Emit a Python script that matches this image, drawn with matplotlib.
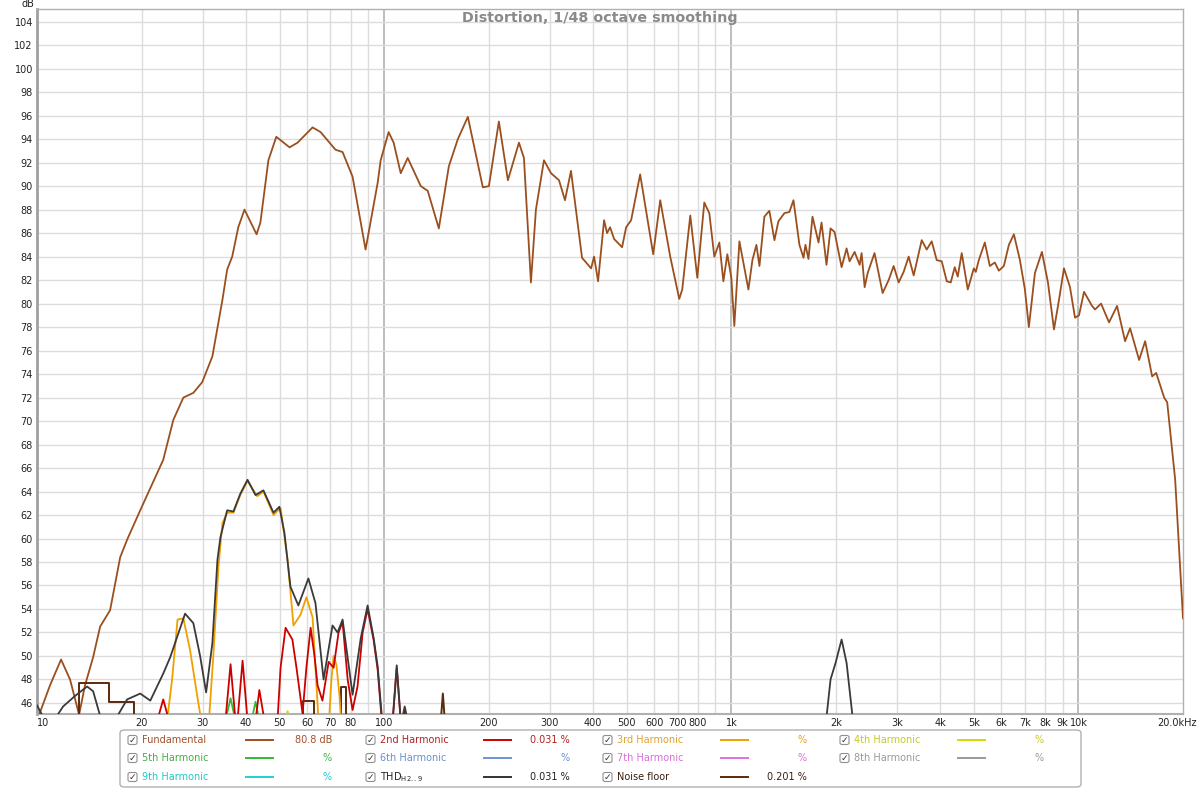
import matplotlib.pyplot as plt
from matplotlib.patches import FancyBboxPatch
from matplotlib.lines import Line2D

# fundamental (Hz, dB)
fund_f = [10.0, 10.9, 11.73, 12.45, 13.22, 13.75, 14.51, 15.2, 16.24, 17.36, 18.18, 19.83,
          21.9, 23.1, 24.7, 26.4, 28.2, 29.9, 32.0, 34.2, 35.3, 36.5, 38.0, 39.6, 42.9, 44.0,
          46.4, 48.9, 53.4, 56.3, 62.2, 65.6, 72.4, 75.9, 81.1, 88.4, 95.8, 97.7, 103.0, 106.5,
          111.6, 116.9, 127.5, 133.5, 143.7, 153.6, 163.0, 174.2, 192.4, 200.3, 214.0, 227.2,
          244.5, 252.7, 264.7, 273.6, 288.6, 302.4, 318.9, 331.8, 345.3, 371.5, 394.5, 402.4,
          413.2, 430.0, 438.6, 447.5, 459.5, 484.6, 497.7, 514.5, 546.2, 595.6, 624.0, 666.8,
          707.9, 722.1, 761.6, 797.9, 835.9, 864.1, 893.3, 923.6, 948.5, 973.9, 1000, 1020,
          1055, 1120, 1150, 1181, 1205, 1245, 1287, 1331, 1366, 1422, 1470, 1510, 1571, 1614,
          1635, 1668, 1713, 1783, 1819, 1880, 1931, 1983, 2078, 2148, 2191, 2265, 2342, 2373,
          2421, 2470, 2585, 2728, 2839, 2935, 3034, 3136, 3242, 3352, 3535, 3654, 3778, 3905,
          4037, 4174, 4286, 4401, 4489, 4610, 4798, 4994, 5061, 5162, 5373, 5554, 5741, 5896,
          6095, 6302, 6515, 6781, 7009, 7195, 7490, 7846, 8166, 8500, 8785, 9082, 9452, 9770,
          10033, 10373, 10940, 11160, 11613, 12246, 12915, 13620, 14080, 14950, 15560, 16300,
          16740, 17650, 18010, 18990, 20000]
fund_db = [44.5, 47.5, 49.7, 48.0, 45.0, 47.5, 49.9, 52.5, 53.9, 58.4, 59.9, 62.4,
           65.2, 66.7, 70.1, 72.0, 72.4, 73.3, 75.5, 80.3, 82.9, 84.0, 86.5, 88.0, 85.9, 86.9,
           92.2, 94.2, 93.3, 93.7, 95.0, 94.6, 93.1, 92.9, 90.8, 84.6, 90.3, 92.2, 94.6, 93.7,
           91.1, 92.4, 90.0, 89.6, 86.4, 91.7, 94.0, 95.9, 89.9, 90.0, 95.5, 90.5,
           93.7, 92.4, 81.8, 88.0, 92.2, 91.1, 90.5, 88.8, 91.3, 83.9, 83.0, 84.0,
           81.9, 87.1, 86.0, 86.5, 85.5, 84.8, 86.5, 87.1, 91.0, 84.2, 88.8, 84.0,
           80.4, 81.2, 87.5, 82.2, 88.6, 87.7, 84.0, 85.2, 81.9, 84.2, 82.2, 78.1,
           85.3, 81.2, 83.7, 85.0, 83.2, 87.4, 87.9, 85.4, 87.0, 87.7, 87.8, 88.8, 85.0, 83.9,
           85.0, 83.8, 87.4, 85.2, 86.9, 83.3, 86.4, 86.1, 83.1, 84.7, 83.6, 84.4, 83.3, 84.3,
           81.4, 82.6, 84.3, 80.9, 82.0, 83.2, 81.8, 82.7, 84.0, 82.4, 85.4, 84.6, 85.3, 83.7,
           83.6, 81.9, 81.8, 83.1, 82.3, 84.3, 81.2, 83.0, 82.7, 83.7, 85.2, 83.2, 83.5, 82.8,
           83.2, 85.0, 85.9, 83.7, 81.2, 78.0, 82.6, 84.4, 81.8, 77.8, 80.3, 83.0, 81.4, 78.8,
           79.0, 81.0, 79.8, 79.5, 80.0, 78.4, 79.8, 76.8, 77.9, 75.2, 76.8, 73.8,
           74.1, 72.0, 71.6, 65.0, 53.2]

# THD H2..9
thd_f = [10.0, 10.55, 10.9, 11.89, 12.87, 13.94, 14.51, 15.2, 16.24, 17.13, 18.18, 19.83,
         21.2, 23.1, 24.2, 26.7, 28.2, 29.5, 30.7, 32.0, 33.1, 33.75, 35.3, 36.8, 38.5, 40.4,
         42.6, 44.9, 48.0, 49.9, 51.6, 53.7, 56.6, 60.5, 63.4, 66.9, 71.0, 73.4, 75.9, 81.1,
         85.6, 89.6, 93.3, 95.8, 99.0, 105.8, 108.7, 111.6, 112.4, 114.6, 116.9]
thd_db = [45.8, 44.5, 44.0, 45.7, 46.6, 47.4, 47.0, 44.9, 42.0, 45.0, 46.3, 46.8,
          46.2, 48.5, 49.9, 53.6, 52.8, 50.0, 46.9, 51.1, 58.2, 60.1, 62.4, 62.3, 63.8, 65.0,
          63.7, 64.1, 62.2, 62.7, 60.5, 55.9, 54.3, 56.6, 54.5, 48.0, 52.6, 52.0, 53.1, 46.7,
          51.5, 54.3, 51.5, 49.1, 44.0, 44.5, 49.2, 44.5, 44.5, 45.7, 44.5]
thd2k_f = [1880, 1931, 1996, 2078, 2148, 2235]
thd2k_db = [44.8, 48.0, 49.4, 51.4, 49.4, 44.8]

# 2nd harmonic
h2_f = [22.2, 23.1, 24.0, 34.9, 36.1, 37.3, 37.8, 39.1, 40.4, 42.6, 43.7, 45.2,
        49.3, 50.3, 52.0, 54.4, 55.9, 58.2, 59.7, 61.4, 63.0, 64.3, 66.4, 69.2, 71.5, 73.9,
        75.9, 78.5, 81.1, 83.8, 86.7, 89.6, 93.3, 95.8, 98.4, 105.8, 108.7, 111.6, 113.1,
        114.6, 116.1]
h2_db = [44.5, 46.3, 44.5, 44.5, 49.3, 44.5, 44.5, 49.6, 44.5, 44.5, 47.1, 44.5,
         44.5, 49.0, 52.4, 51.4, 49.0, 45.1, 49.0, 52.4, 50.0, 47.5, 46.2, 49.5, 49.0, 52.0,
         52.9, 48.0, 45.4, 47.4, 52.0, 54.0, 51.3, 48.8, 44.5, 44.5, 49.0, 44.5, 44.5,
         45.3, 44.5]

# 3rd harmonic
h3_f = [23.7, 24.5, 25.4, 26.4, 27.6, 28.8, 29.9, 31.2, 32.2, 33.3, 34.2, 35.3, 36.8,
        38.5, 40.4, 43.1, 44.9, 48.0, 50.3, 52.7, 54.8, 57.4, 59.7, 62.2, 63.4, 64.7,
        69.2, 70.5, 71.5, 72.9, 74.4, 75.3]
h3_db = [44.5, 48.0, 53.1, 53.2, 50.5, 47.0, 44.0, 44.0, 50.0, 57.5, 61.3, 62.2, 62.2,
         63.7, 64.9, 63.6, 64.0, 62.0, 62.6, 58.2, 52.6, 53.5, 55.0, 53.3, 49.0, 44.5,
         44.0, 48.0, 50.0, 49.2, 46.5, 44.0]

# 4th and 5th harmonic
h4_f = [51.6, 52.7, 53.7]
h4_db = [44.5, 45.3, 44.5]
h5_f = [34.9, 36.1, 37.3, 41.5, 42.6, 43.7]
h5_db = [44.5, 46.4, 44.5, 44.5, 46.1, 44.5]

# noise floor (steps)
nf_segments = [
    ([13.22, 13.22, 16.13, 16.13, 19.06, 19.06], [44.0, 47.7, 47.7, 46.1, 46.1, 44.0]),
    ([58.2, 58.2, 62.6, 62.6], [44.0, 46.2, 46.2, 44.0]),
    ([74.9, 74.9, 77.4, 77.4], [44.0, 47.4, 47.4, 44.0]),
    ([145.6, 147.6, 149.5], [44.5, 46.8, 44.5]),
]

grid_freqs = [20, 30, 40, 50, 60, 70, 80, 90, 200, 300, 400, 500, 600, 700, 800, 900,
              2000, 3000, 4000, 5000, 6000, 7000, 8000, 9000]
decades = [100, 1000, 10000]
xtick_f = [10, 20, 30, 40, 50, 60, 70, 80, 100, 200, 300, 400, 500, 600, 700, 800, 1000,
           2000, 3000, 4000, 5000, 6000, 7000, 8000, 9000, 10000]
xtick_lab = ["10", "20", "30", "40", "50", "60", "70", "80", "100", "200", "300", "400",
             "500", "600", "700", "800", "1k", "2k", "3k", "4k", "5k", "6k", "7k", "8k",
             "9k", "10k"]
yticks = list(range(46, 105, 2))

legend_rows = [
    [("Fundamental", "#a0522d", "#9b4f1e", "80.8 dB"), ("2nd Harmonic", "#b22222", "#cc0000", "0.031 %"),
     ("3rd Harmonic", "#e0a030", "#f0a000", "%"), ("4th Harmonic", "#c8c820", "#d8d800", "%")],
    [("5th Harmonic", "#40b040", "#33bb33", "%"), ("6th Harmonic", "#6a8fd0", "#7090d8", "%"),
     ("7th Harmonic", "#d870d8", "#e070e0", "%"), ("8th Harmonic", "#999999", "#999999", "%")],
    [("9th Harmonic", "#20c8c8", "#20d0d0", "%"), ("THD$_{\\mathregular{H2..9}}$", "#222222", "#333333", "0.031 %"),
     ("Noise floor", "#3a2010", "#5a2a0a", "0.201 %"), None],
]

W, H = 1200, 788
fig = plt.figure(figsize=(W / 100, H / 100), dpi=100)
ax = fig.add_axes([37 / W, 74 / H, 1146 / W, 705 / H])
ax.set_xscale("log")
ax.set_xlim(10, 20000)
ax.set_ylim(45.06, 105.08)

for f in grid_freqs:
    ax.axvline(f, color="#dcdcdc", lw=1.0, zorder=0)
for f in decades:
    ax.axvline(f, color="#b8b8b8", lw=1.3, zorder=0)
for y in yticks:
    ax.axhline(y, color="#dcdcdc", lw=1.0, zorder=0)

ax.plot(fund_f, fund_db, color="#9b4f1e", lw=1.3, zorder=3)
for sf, sdb in nf_segments:
    ax.plot(sf, sdb, color="#5a2a0a", lw=1.4, zorder=3)
ax.plot(h3_f, h3_db, color="#f0a000", lw=1.3, zorder=4)
ax.plot(h4_f, h4_db, color="#d8d800", lw=1.3, zorder=4)
ax.plot(h5_f, h5_db, color="#33bb33", lw=1.3, zorder=4)
ax.plot(h2_f, h2_db, color="#cc0000", lw=1.3, zorder=5)
ax.plot(thd_f, thd_db, color="#3a3a3a", lw=1.3, zorder=6)
ax.plot(thd2k_f, thd2k_db, color="#3a3a3a", lw=1.3, zorder=6)

ax.set_xticks(xtick_f)
ax.set_xticklabels(xtick_lab)
ax.minorticks_off()
ax.set_yticks(yticks)
ax.tick_params(axis="both", length=0, labelsize=7, colors="#222222", pad=3)
ax.get_xticklabels()[0].set_ha("left")
for s in ax.spines.values():
    s.set_color("#b0b0b0")
    s.set_linewidth(1.0)
ax.spines["left"].set_color("#a0a0a0")
ax.spines["left"].set_linewidth(2.0)
ax.spines["bottom"].set_linewidth(1.5)

# last frequency label sits a bit left of the axis end, like the original
fig.text(1177 / W, 1 - 723 / H, "20.0kHz", fontsize=7, color="#222222", ha="center", va="center")

fig.text(0.5, 1 - 18 / H, "Distortion, 1/48 octave smoothing",
         ha="center", va="center", fontsize=10.3, fontweight="bold", color="#8a8a8a")
fig.text(22 / W, 1 - 4 / H, "dB", fontsize=7, color="#222222", va="center")

# legend panel
fig.patches.append(FancyBboxPatch((120 / W, 1 - 787 / H), 961 / W, 57 / H,
                                  boxstyle="round,pad=0,rounding_size=0.004",
                                  transform=fig.transFigure, fc="white", ec="#b0b0b0", lw=1.0))
col_x = [128, 366, 603, 840]
row_y = [740, 758, 777]
for r, row in enumerate(legend_rows):
    for c, item in enumerate(row):
        if item is None:
            continue
        name, tcol, lcol, val = item
        x0 = col_x[c]
        y0 = row_y[r]
        fig.patches.append(FancyBboxPatch((x0 / W, 1 - (y0 + 4.5) / H), 9 / W, 9 / H,
                                          boxstyle="round,pad=0,rounding_size=0.002",
                                          transform=fig.transFigure, fc="white",
                                          ec="#909090", lw=0.8))
        fig.text((x0 + 4.5) / W, 1 - y0 / H, "✓", fontsize=6.5, ha="center", va="center",
                 color="#333333")
        fig.text((x0 + 14) / W, 1 - y0 / H, name, fontsize=7, color=tcol, va="center")
        fig.lines.append(Line2D([(x0 + 118) / W, (x0 + 145) / W], [1 - y0 / H, 1 - y0 / H],
                                transform=fig.transFigure, color=lcol, lw=1.4))
        fig.text((x0 + 204) / W, 1 - y0 / H, val, fontsize=7, color=tcol, va="center", ha="right")

fig.savefig("out.png", dpi=100, facecolor="white")
